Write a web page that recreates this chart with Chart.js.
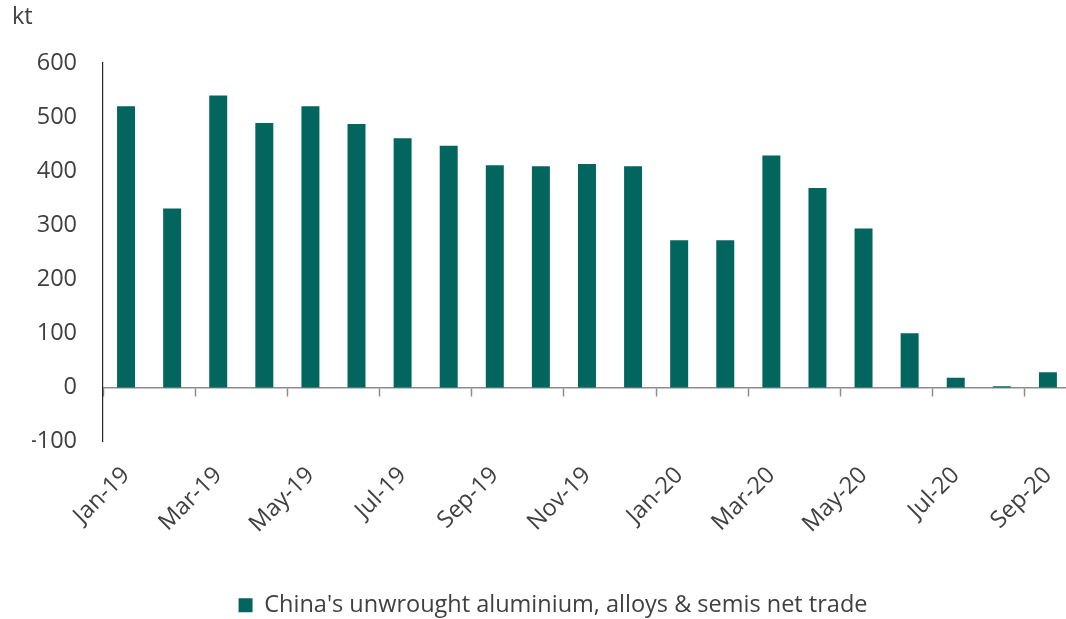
<!DOCTYPE html>
<html>
<head>
<meta charset="utf-8">
<script src="https://cdn.jsdelivr.net/npm/chart.js@4.4.1/dist/chart.umd.min.js"></script>
<style>
  html, body { margin: 0; padding: 0; background: #fff; overflow: hidden; }
  #wrap { width: 1066px; height: 619px; overflow: hidden; position: relative; }
  canvas { display: block; }
</style>
</head>
<body>
<div id="wrap"><canvas id="c" width="1080" height="619"></canvas></div>
<script>
// Monthly net trade, kt
const months = ['Jan-19','Feb-19','Mar-19','Apr-19','May-19','Jun-19','Jul-19','Aug-19','Sep-19','Oct-19','Nov-19','Dec-19',
                'Jan-20','Feb-20','Mar-20','Apr-20','May-20','Jun-20','Jul-20','Aug-20','Sep-20'];
const netTrade = [520, 331, 540, 489, 520, 487, 461, 447, 411, 409, 413, 409,
                  272, 272, 429, 369, 294, 100, 18, 2, 28];
const seriesName = "China's unwrought aluminium, alloys & semis net trade";
const unitLabel = 'kt';
const yTicks = [-100, 0, 100, 200, 300, 400, 500, 600];

const FONT = '"Open Sans", sans-serif';
const FSIZE = 23.5;
const TEXT = '#404040';
const BAR = '#02665f';

// Unit caption above the value axis
const unitCaption = {
  id: 'unitCaption',
  afterDraw(chart) {
    const ctx = chart.ctx;
    ctx.save();
    ctx.font = FSIZE + 'px ' + FONT;
    ctx.fillStyle = TEXT;
    ctx.textBaseline = 'alphabetic';
    ctx.textAlign = 'left';
    ctx.fillText(unitLabel, 12, 24);
    ctx.restore();
  }
};

new Chart(document.getElementById('c'), {
  type: 'bar',
  data: {
    labels: months,
    datasets: [{
      label: seriesName,
      data: netTrade,
      backgroundColor: BAR,
      borderWidth: 0,
      barPercentage: 0.39,
      categoryPercentage: 1.0
    }]
  },
  options: {
    responsive: false,
    animation: false,
    layout: { padding: { top: 63, right: 6, left: 32, bottom: -8 } },
    plugins: {
      tooltip: { enabled: false },
      legend: {
        position: 'bottom',
        labels: {
          font: { family: FONT, size: FSIZE },
          color: TEXT,
          boxWidth: 14,
          boxHeight: 14,
          padding: 0
        }
      }
    },
    scales: {
      x: {
        type: 'category',
        offset: true,
        grid: { display: false, offset: true },
        border: { display: false },
        ticks: {
          autoSkip: false,
          minRotation: 45,
          maxRotation: 45,
          padding: 12,
          color: TEXT,
          font: { family: FONT, size: FSIZE },
          callback: (v, i) => (i % 2 === 0 ? months[i] : '')
        },
        afterFit: s => { s.height = 152; }
      },
      x0: {
        type: 'category',
        labels: months,
        position: { y: 0 },
        offset: true,
        grid: {
          offset: true,
          drawOnChartArea: false,
          drawTicks: true,
          tickLength: 8,
          tickWidth: 1.5,
          tickColor: ctx => (ctx.index % 2 === 0 ? '#8c8c8c' : 'rgba(0,0,0,0)')
        },
        border: { display: true, color: '#8c8c8c', width: 1.5 },
        ticks: { display: false }
      },
      y: {
        min: -100,
        max: 600,
        afterBuildTicks: s => { s.ticks = yTicks.map(v => ({ value: v })); },
        grid: { display: false, drawTicks: false },
        border: { display: true, color: '#262626', width: 1.2 },
        ticks: {
          padding: 26,
          color: TEXT,
          font: { family: FONT, size: FSIZE }
        },
        afterFit: s => { s.width = 71; }
      }
    }
  },
  plugins: [unitCaption]
});
</script>
</body>
</html>
